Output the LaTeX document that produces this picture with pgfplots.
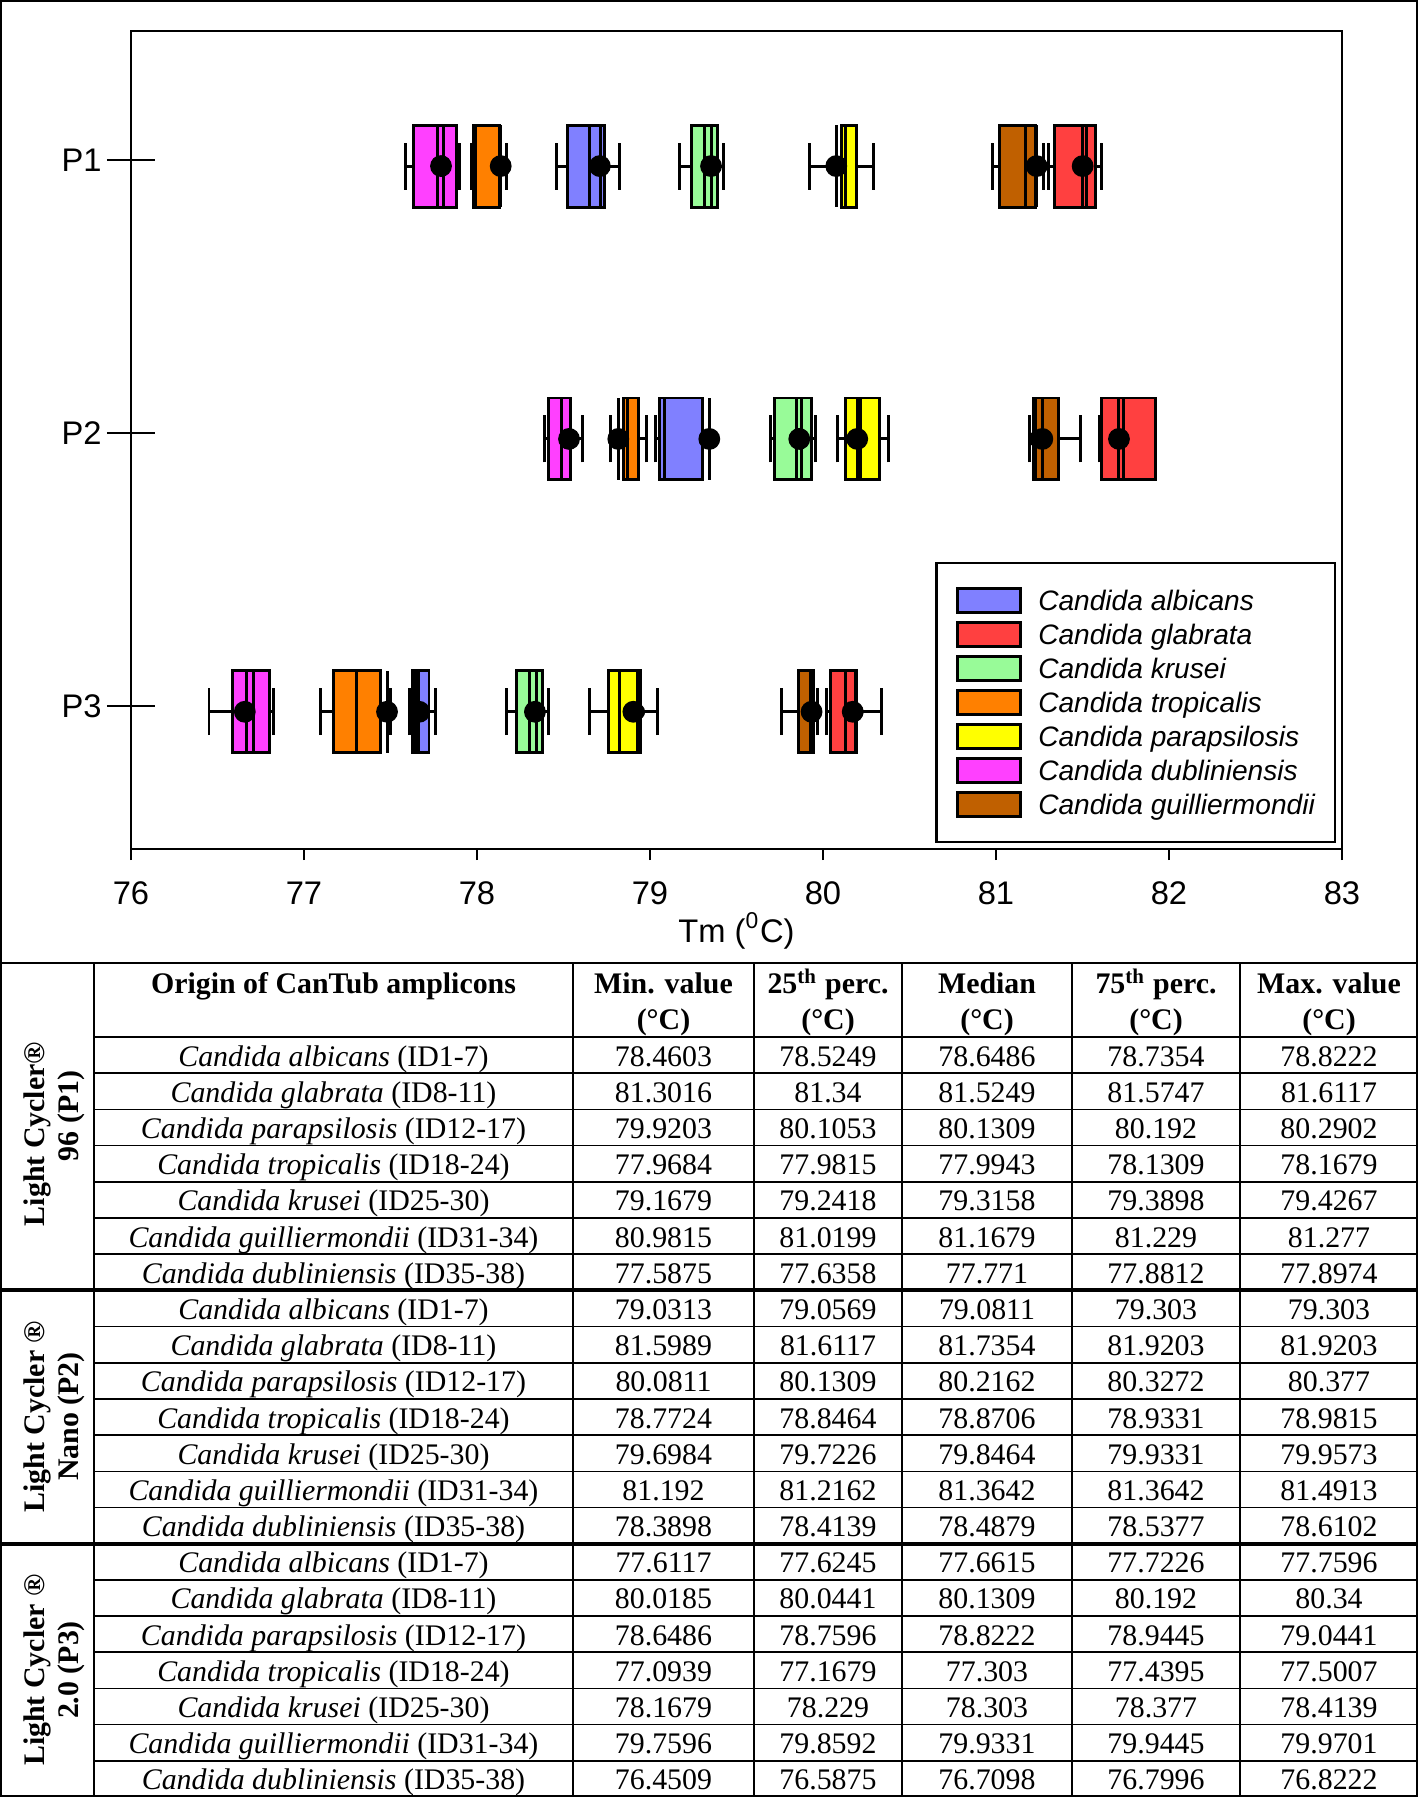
\documentclass[border=0pt]{standalone}
\usepackage{pgfplots}
\pgfplotsset{compat=1.18}
\usepgfplotslibrary{statistics}
\usepackage{fontspec}
\setmainfont{Liberation Serif}
\newfontfamily\arial{Liberation Sans}
\definecolor{calb}{RGB}{128,128,255}
\definecolor{cgla}{RGB}{255,64,64}
\definecolor{ckru}{RGB}{152,251,152}
\definecolor{ctro}{RGB}{255,128,0}
\definecolor{cpar}{RGB}{255,255,0}
\definecolor{cdub}{RGB}{255,64,255}
\definecolor{cgui}{RGB}{192,96,0}
\newcommand{\bx}[7]{\addplot[forget plot, draw=black, line width=0.85pt, fill=#1,
  boxplot prepared={lower whisker=#2, lower quartile=#3, median=#4,
  upper quartile=#5, upper whisker=#6, draw position=#7,
  box extend=0.30, whisker extend=0.172}] coordinates {};}
\newcommand\trow[8]{%
  \pgfmathsetmacro\yb{1037+(#1-0.5)*36.19+11}%
  \node[anchor=base] at (333.5,\yb) {\textit{#2} (#3)};%
  \node[anchor=base] at (663.5,\yb) {#4};%
  \node[anchor=base] at (828,\yb) {#5};%
  \node[anchor=base] at (987,\yb) {#6};%
  \node[anchor=base] at (1156,\yb) {#7};%
  \node[anchor=base] at (1329,\yb) {#8};%
}
\begin{document}
\begin{tikzpicture}
\useasboundingbox (0,0) rectangle (141.8mm,-179.7mm);
\begin{axis}[
  at={(13.1mm,-84.9mm)}, anchor=south west, scale only axis,
  width=121.1mm, height=81.8mm,
  xmin=76, xmax=83, ymin=0.497, ymax=3.495,
  xtick={76,77,...,83}, ytick=\empty,
  extra y ticks={1.022,2.022,3.022}, extra y tick labels={P3,P2,P1},
  extra y tick style={major tick length=4.8mm, tick align=center},
  tick align=outside, major tick length=1.1mm,
  xtick pos=bottom, ytick pos=left,
  boxplot/draw direction=x,
  axis line style={line width=0.6pt},
  every tick/.style={black, line width=0.6pt},
  /pgf/number format/assume math mode=true,
  ticklabel style={font=\arial\fontsize{9.3}{11}\selectfont},
  xticklabel style={anchor=center, yshift=-3.3mm},
  yticklabel style={anchor=east, xshift=0.7mm},
  xlabel={Tm (\textsuperscript{0}C)},
  xlabel style={font=\arial\fontsize{9.3}{11}\selectfont, at={(axis description cs:0.5,0)}, anchor=center, yshift=-8.2mm},
  legend image code/.code={\draw[#1, line width=0.8pt] (0mm,-1.2mm) rectangle (6.3mm,1.2mm);},
  legend style={at={(1,0)}, anchor=south east, xshift=-0.6mm, yshift=0.6mm,
    draw=black, line width=0.6pt, inner xsep=2mm, inner ysep=2.4mm,
    row sep=0.72mm, column sep=1.6mm,
    font=\arial\itshape\fontsize{8}{9.6}\selectfont,
    nodes={inner sep=0pt, text height=2.0mm, text depth=0mm}},
  legend cell align=left,
]
% P1 (y=3)
\bx{calb}{78.4603}{78.5249}{78.6486}{78.7354}{78.8222}{3}
\bx{cgla}{81.3016}{81.34}{81.5249}{81.5747}{81.6117}{3}
\bx{cpar}{79.9203}{80.1053}{80.1309}{80.192}{80.2902}{3}
\bx{ctro}{77.9684}{77.9815}{77.9943}{78.1309}{78.1679}{3}
\bx{ckru}{79.1679}{79.2418}{79.3158}{79.3898}{79.4267}{3}
\bx{cgui}{80.9815}{81.0199}{81.1679}{81.229}{81.277}{3}
\bx{cdub}{77.5875}{77.6358}{77.771}{77.8812}{77.8974}{3}
% P2 (y=2)
\bx{calb}{79.0313}{79.0569}{79.0811}{79.303}{79.303}{2}
\bx{cgla}{81.5989}{81.6117}{81.7354}{81.9203}{81.9203}{2}
\bx{cpar}{80.0811}{80.1309}{80.2162}{80.3272}{80.377}{2}
\bx{ctro}{78.7724}{78.8464}{78.8706}{78.9331}{78.9815}{2}
\bx{ckru}{79.6984}{79.7226}{79.8464}{79.9331}{79.9573}{2}
\bx{cgui}{81.192}{81.2162}{81.3642}{81.3642}{81.4913}{2}
\bx{cdub}{78.3898}{78.4139}{78.4879}{78.5377}{78.6102}{2}
% P3 (y=1)
\bx{calb}{77.6117}{77.6245}{77.6615}{77.7226}{77.7596}{1}
\bx{cgla}{80.0185}{80.0441}{80.1309}{80.192}{80.34}{1}
\bx{cpar}{78.6486}{78.7596}{78.8222}{78.9445}{79.0441}{1}
\bx{ctro}{77.0939}{77.1679}{77.303}{77.4395}{77.5007}{1}
\bx{ckru}{78.1679}{78.229}{78.303}{78.377}{78.4139}{1}
\bx{cgui}{79.7596}{79.8592}{79.9331}{79.9445}{79.9701}{1}
\bx{cdub}{76.4509}{76.5875}{76.7098}{76.7996}{76.8222}{1}
% mean lines
\addplot[forget plot, only marks, mark=none, error bars/.cd, y dir=both, y explicit,
  error mark=none, error bar style={line width=0.85pt, black}] coordinates {
  (77.805,3) +- (0,0.15) (78.135,3) +- (0,0.15) (78.713,3) +- (0,0.15)
  (79.357,3) +- (0,0.15) (80.080,3) +- (0,0.15) (81.235,3) +- (0,0.15)
  (81.501,3) +- (0,0.15)
  (78.538,2) +- (0,0.15) (78.817,2) +- (0,0.15) (79.343,2) +- (0,0.15)
  (79.873,2) +- (0,0.15) (80.198,2) +- (0,0.15) (81.231,2) +- (0,0.15)
  (81.268,2) +- (0,0.15) (81.711,2) +- (0,0.15)
  (76.667,1) +- (0,0.15) (77.480,1) +- (0,0.15) (77.647,1) +- (0,0.15)
  (78.345,1) +- (0,0.15) (78.927,1) +- (0,0.15) (79.930,1) +- (0,0.15)
  (80.190,1) +- (0,0.15)
};
% mean dots
\addplot[forget plot, only marks, mark=*, mark size=2.9pt, black] coordinates {
  (77.792,3) (78.137,3) (78.71,3) (79.353,3) (80.077,3) (81.235,3) (81.501,3)
  (78.532,2) (78.817,2) (79.343,2) (79.863,2) (80.198,2) (81.268,2) (81.711,2)
  (76.658,1) (77.480,1) (77.666,1) (78.335,1) (78.904,1) (79.934,1) (80.172,1)
};
\addlegendimage{fill=calb, draw=black}\addlegendentry{Candida albicans}
\addlegendimage{fill=cgla, draw=black}\addlegendentry{Candida glabrata}
\addlegendimage{fill=ckru, draw=black}\addlegendentry{Candida krusei}
\addlegendimage{fill=ctro, draw=black}\addlegendentry{Candida tropicalis}
\addlegendimage{fill=cpar, draw=black}\addlegendentry{Candida parapsilosis}
\addlegendimage{fill=cdub, draw=black}\addlegendentry{Candida dubliniensis}
\addlegendimage{fill=cgui, draw=black}\addlegendentry{Candida guilliermondii}
\end{axis}
\begin{scope}[x=0.1mm, y=-0.1mm, font=\fontsize{8.5}{10}\selectfont]
  % outer frame and table lines
  \draw[line width=0.6pt] (1,1) -- (1417,1) -- (1417,1796.5) -- (1,1796.5) -- cycle;
  \draw[line width=0.45pt] (1,963) -- (1417,963);
  \draw[line width=0.45pt] (94,963) -- (94,1797);
  \foreach \xx in {573,754,902,1072,1240} \draw[line width=0.45pt] (\xx,963) -- (\xx,1797);
  \draw[line width=0.45pt] (94,1037) -- (1417,1037);
  \foreach \k in {1,...,6,8,9,...,13,15,16,...,20}
    \draw[line width=0.45pt] (94,{1037+\k*36.19}) -- (1417,{1037+\k*36.19});
  \draw[line width=1.1pt] (1,{1037+7*36.19}) -- (1417,{1037+7*36.19});
  \draw[line width=1.1pt] (1,{1037+14*36.19}) -- (1417,{1037+14*36.19});
  % header
  \node[anchor=base, font=\fontsize{8.5}{10}\selectfont\bfseries] at (333.5,993) {Origin of CanTub amplicons};
  \foreach \xx/\tt in {663.5/Min. value, 828/25\textsuperscript{th} perc., 987/Median, 1156/75\textsuperscript{th} perc., 1329/Max. value}{
    \node[anchor=base, font=\fontsize{8.5}{10}\selectfont\bfseries] at (\xx,993) {\tt};
    \node[anchor=base, font=\fontsize{8.5}{10}\selectfont\bfseries] at (\xx,1029) {(°C)};
  }
  % row headers (rotated)
  \node[anchor=base, rotate=90, font=\fontsize{8.5}{10}\selectfont\bfseries] at (45,1134) {Light Cycler®};
  \node[anchor=base, rotate=90, font=\fontsize{8.5}{10}\selectfont\bfseries] at (78,1116) {96 (P1)};
  \node[anchor=base, rotate=90, font=\fontsize{8.5}{10}\selectfont\bfseries] at (45,1416.5) {Light Cycler ®};
  \node[anchor=base, rotate=90, font=\fontsize{8.5}{10}\selectfont\bfseries] at (78,1416.5) {Nano (P2)};
  \node[anchor=base, rotate=90, font=\fontsize{8.5}{10}\selectfont\bfseries] at (45,1670) {Light Cycler ®};
  \node[anchor=base, rotate=90, font=\fontsize{8.5}{10}\selectfont\bfseries] at (78,1670) {2.0 (P3)};
  % P1
  \trow{1}{Candida albicans}{ID1-7}{78.4603}{78.5249}{78.6486}{78.7354}{78.8222}
  \trow{2}{Candida glabrata}{ID8-11}{81.3016}{81.34}{81.5249}{81.5747}{81.6117}
  \trow{3}{Candida parapsilosis}{ID12-17}{79.9203}{80.1053}{80.1309}{80.192}{80.2902}
  \trow{4}{Candida tropicalis}{ID18-24}{77.9684}{77.9815}{77.9943}{78.1309}{78.1679}
  \trow{5}{Candida krusei}{ID25-30}{79.1679}{79.2418}{79.3158}{79.3898}{79.4267}
  \trow{6}{Candida guilliermondii}{ID31-34}{80.9815}{81.0199}{81.1679}{81.229}{81.277}
  \trow{7}{Candida dubliniensis}{ID35-38}{77.5875}{77.6358}{77.771}{77.8812}{77.8974}
  % P2
  \trow{8}{Candida albicans}{ID1-7}{79.0313}{79.0569}{79.0811}{79.303}{79.303}
  \trow{9}{Candida glabrata}{ID8-11}{81.5989}{81.6117}{81.7354}{81.9203}{81.9203}
  \trow{10}{Candida parapsilosis}{ID12-17}{80.0811}{80.1309}{80.2162}{80.3272}{80.377}
  \trow{11}{Candida tropicalis}{ID18-24}{78.7724}{78.8464}{78.8706}{78.9331}{78.9815}
  \trow{12}{Candida krusei}{ID25-30}{79.6984}{79.7226}{79.8464}{79.9331}{79.9573}
  \trow{13}{Candida guilliermondii}{ID31-34}{81.192}{81.2162}{81.3642}{81.3642}{81.4913}
  \trow{14}{Candida dubliniensis}{ID35-38}{78.3898}{78.4139}{78.4879}{78.5377}{78.6102}
  % P3
  \trow{15}{Candida albicans}{ID1-7}{77.6117}{77.6245}{77.6615}{77.7226}{77.7596}
  \trow{16}{Candida glabrata}{ID8-11}{80.0185}{80.0441}{80.1309}{80.192}{80.34}
  \trow{17}{Candida parapsilosis}{ID12-17}{78.6486}{78.7596}{78.8222}{78.9445}{79.0441}
  \trow{18}{Candida tropicalis}{ID18-24}{77.0939}{77.1679}{77.303}{77.4395}{77.5007}
  \trow{19}{Candida krusei}{ID25-30}{78.1679}{78.229}{78.303}{78.377}{78.4139}
  \trow{20}{Candida guilliermondii}{ID31-34}{79.7596}{79.8592}{79.9331}{79.9445}{79.9701}
  \trow{21}{Candida dubliniensis}{ID35-38}{76.4509}{76.5875}{76.7098}{76.7996}{76.8222}
\end{scope}
\end{tikzpicture}
\end{document}
